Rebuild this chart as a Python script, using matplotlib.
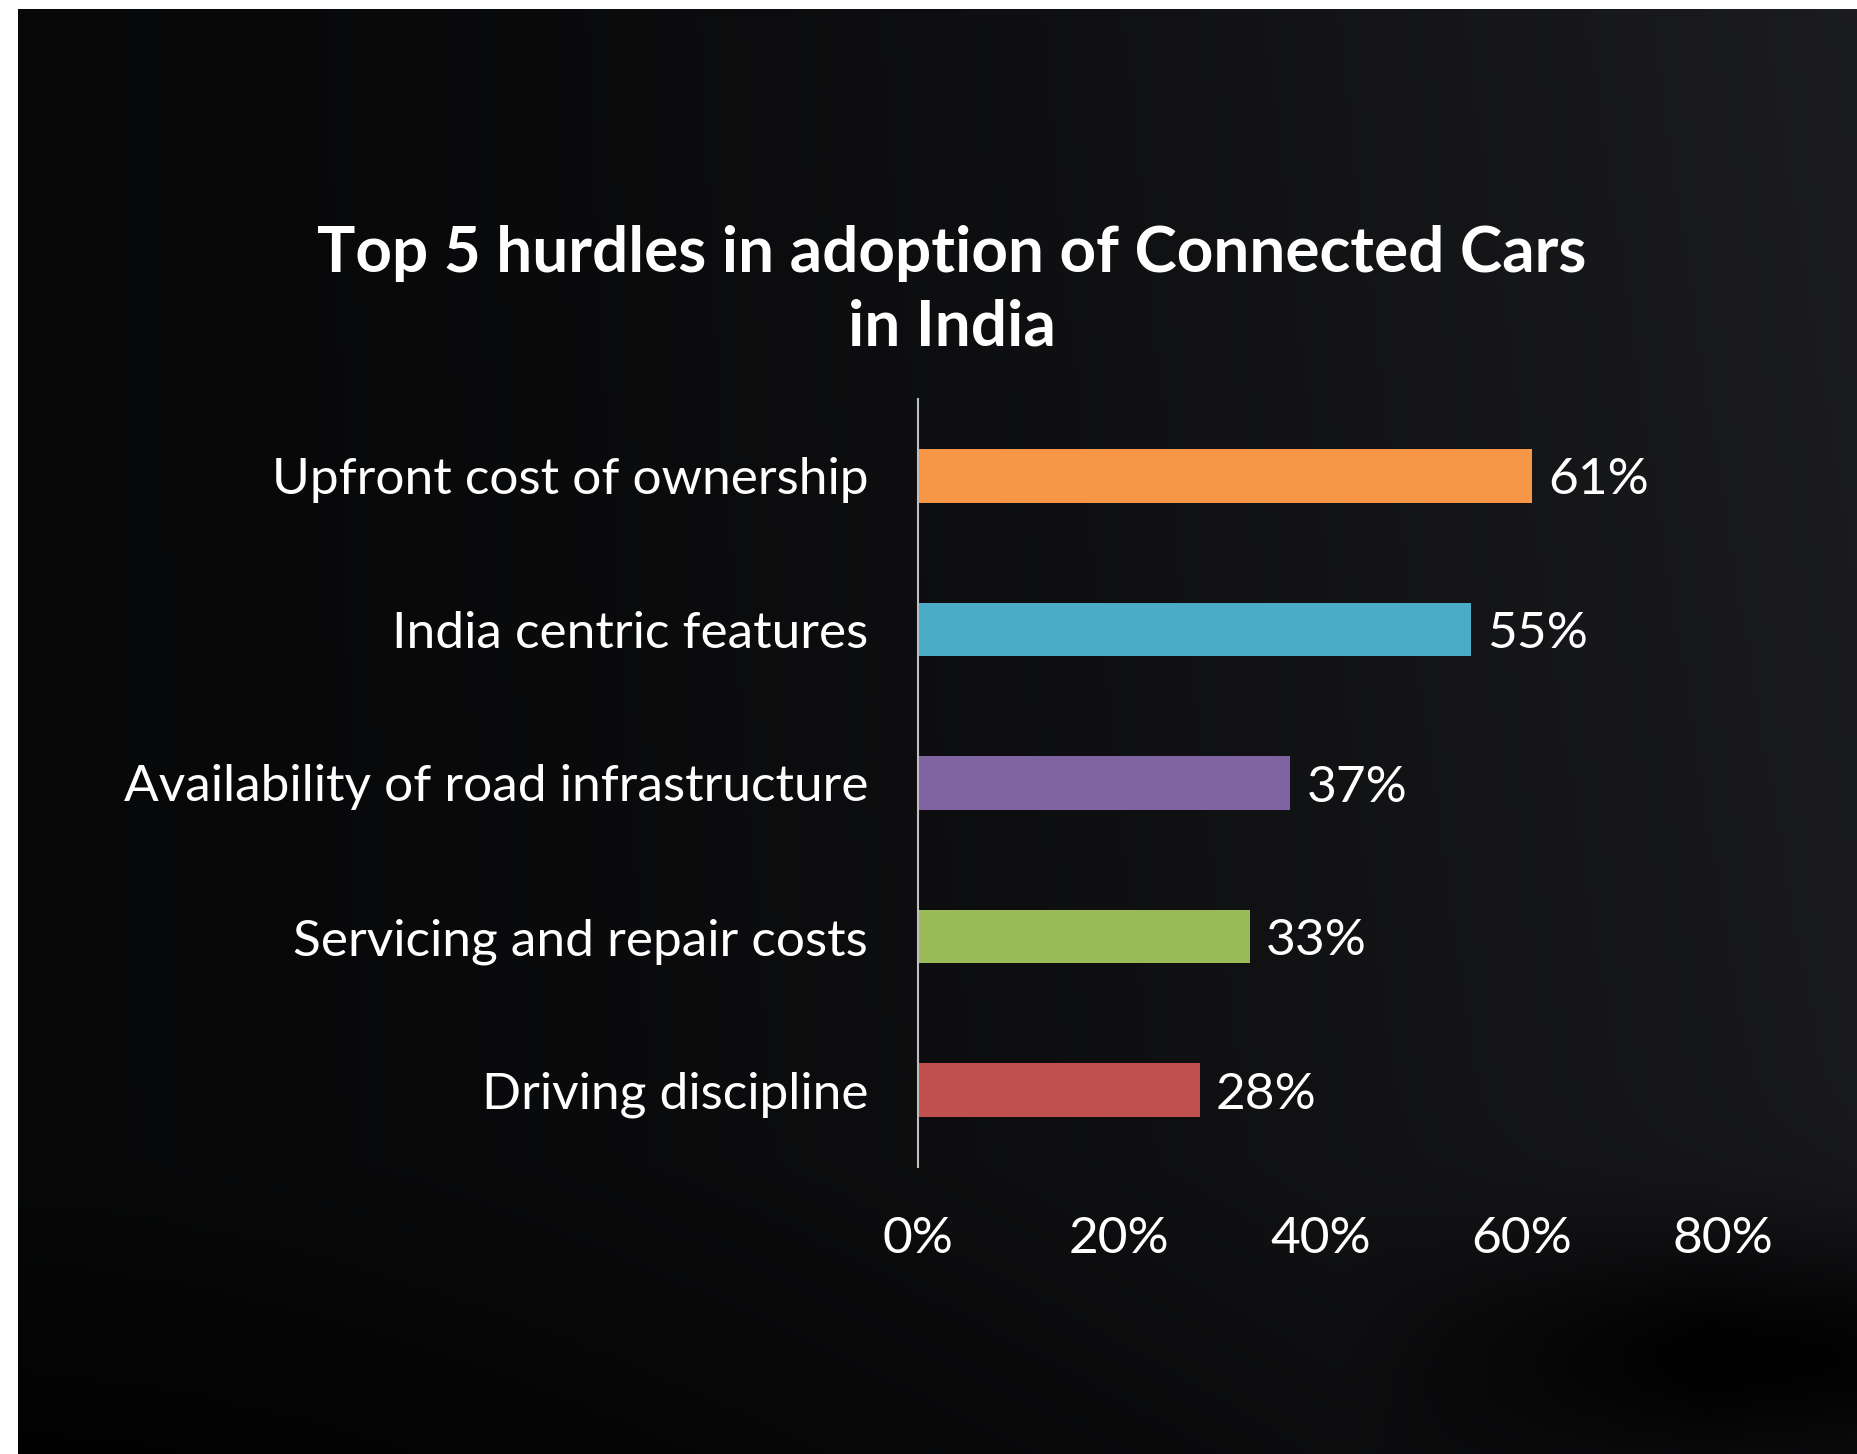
import numpy as np
import matplotlib
matplotlib.use("Agg")
import matplotlib.pyplot as plt

# data
categories = ["Upfront cost of ownership", "India centric features",
              "Availability of road infrastructure", "Servicing and repair costs",
              "Driving discipline"]
values = [61, 55, 37, 33, 28]
colors = ["#F79646", "#4BACC6", "#8064A2", "#9BBB59", "#C0504D"]
xticks = [0, 20, 40, 60, 80]
title = "Top 5 hurdles in adoption of Connected Cars\nin India"

plt.rcParams['font.family'] = ['Lato', 'DejaVu Sans']

W, H = 1857, 1454
fig = plt.figure(figsize=(W / 100, H / 100), dpi=100, facecolor="white")

# dark gradient backdrop (white strips left and top like the screenshot)
bg = fig.add_axes([18 / W, 0, 1 - 18 / W, 1 - 9 / H])
bg.set_axis_off()
gx = np.linspace(0, 1, 400)[None, :]
gy = np.linspace(0, 1, 300)[:, None]
base = 0.03 + 0.08 * gx ** 1.6 * (1 - 0.2 * gy)
dark = np.exp(-((gy - 0.93) / 0.08) ** 2) * np.clip((gx - 0.72) / 0.2, 0, 1) * 0.07
low = np.clip((gy - 0.8) / 0.2, 0, 1) * 0.02
lum = np.clip(base - dark - low, 0.01, 1)
img = np.dstack([lum, lum * 1.02, lum * 1.15])
bg.imshow(np.clip(img, 0, 1), aspect="auto", extent=[0, 1, 0, 1], origin="upper")

ax = fig.add_axes([918 / W, 1 - 1167 / H, (1723 - 918) / W, (1167 - 399) / H])
ax.patch.set_alpha(0)
y = np.arange(len(categories))
ax.barh(y, values, height=0.35, color=colors)
ax.set_ylim(len(categories) - 0.5, -0.5)
ax.set_xlim(0, 80)
ax.set_yticks(y)
ax.set_yticklabels(categories, fontsize=37, color="white")
ax.set_xticks(xticks)
ax.set_xticklabels([f"{t}%" for t in xticks], fontsize=37, color="white")
ax.tick_params(axis="y", length=0, pad=36)
ax.tick_params(axis="x", length=0, pad=35)
for s in ["top", "right", "bottom"]:
    ax.spines[s].set_visible(False)
ax.spines["left"].set_color("#bfbfbf")
ax.spines["left"].set_linewidth(1.5)

for yi, v in zip(y, values):
    ax.text(v + 1.6, yi, f"{v}%", va="center_baseline", ha="left", fontsize=37, color="white")

fig.text(952 / W, 1 - 290 / H, title, ha="center", va="center", fontsize=46,
         fontweight="bold", color="white", linespacing=1.36)

fig.savefig("out.png", dpi=100, facecolor="white")
